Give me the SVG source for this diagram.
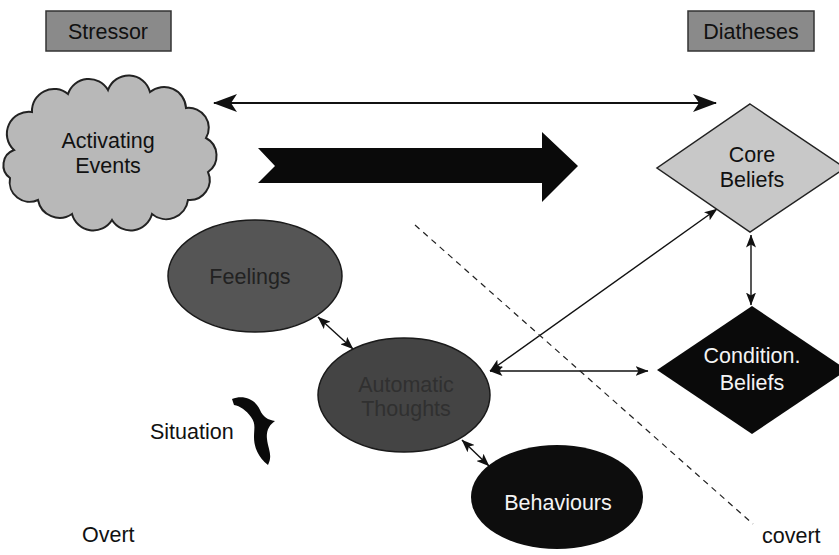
<svg xmlns="http://www.w3.org/2000/svg" width="839" height="555" viewBox="0 0 839 555">
<defs>
<style>
text{font-family:"Liberation Sans",Arial,sans-serif;font-size:21.5px;text-anchor:middle;fill:#111}
.box{fill:#8a8a8a;stroke:#333;stroke-width:1.5}
.conn{stroke:#111;fill:none}
.small{stroke-width:1.4;marker-start:url(#sm);marker-end:url(#sm)}
.w{fill:#f4f4f4}
.left{text-anchor:start}
</style>
<marker id="big" markerUnits="userSpaceOnUse" viewBox="0 0 24 18" refX="23" refY="9" markerWidth="24" markerHeight="18" orient="auto-start-reverse">
<path d="M0,0 L24,9 L0,18 L6,9 Z" fill="#111"/>
</marker>
<marker id="sm" markerUnits="userSpaceOnUse" viewBox="0 0 13 10" refX="12.5" refY="5" markerWidth="13" markerHeight="10" orient="auto-start-reverse">
<path d="M0,0 L13,5 L0,10 L3,5 Z" fill="#111"/>
</marker>
</defs>
<rect width="839" height="555" fill="#fff"/>

<g id="connectors">
<line class="conn" x1="214" y1="103" x2="716" y2="103" stroke-width="2" marker-start="url(#big)" marker-end="url(#big)"/>
<line class="conn small" x1="318" y1="317" x2="353" y2="349"/>
<line class="conn small" x1="462" y1="440" x2="489" y2="466"/>
<line class="conn small" x1="490" y1="371" x2="648" y2="371"/>
<line class="conn small" x1="490" y1="371" x2="717" y2="209"/>
<line class="conn small" x1="751" y1="235" x2="751" y2="305"/>
<line x1="415" y1="225" x2="753" y2="524" stroke="#222" stroke-width="1.2" stroke-dasharray="6,5"/>
</g>

<g id="stressor">
<rect class="box" x="46" y="11" width="125" height="40"/>
<text x="108" y="39">Stressor</text>
</g>

<g id="diatheses">
<rect class="box" x="688" y="11" width="126" height="40"/>
<text x="751" y="39">Diatheses</text>
</g>

<g id="activating-events">
<path d="M14,150 A22,22 0 0 1 32,112 A22,22 0 0 1 68,94 A22,22 0 0 1 108,90 A22,22 0 0 1 150,92 A22,22 0 0 1 186,108 A20,20 0 0 1 206,138 A20,20 0 0 1 208,172 A20,20 0 0 1 188,200 A22,22 0 0 1 152,214 A22,22 0 0 1 112,220 A22,22 0 0 1 72,214 A22,22 0 0 1 38,200 A20,20 0 0 1 10,178 A16,16 0 0 1 14,150 Z" fill="#b8b8b8" stroke="#222" stroke-width="2"/>
<text x="108" y="148">Activating</text>
<text x="108" y="173">Events</text>
</g>

<g id="big-arrow">
<polygon points="258,148 542,148 542,132 578,166 542,202 542,183 258,183 275,166" fill="#0a0a0a"/>
</g>

<g id="core-beliefs">
<polygon points="750,104 845,168 750,232 657,168" fill="#c8c8c8" stroke="#222" stroke-width="1.5"/>
<text x="752" y="162">Core</text>
<text x="752" y="187">Beliefs</text>
</g>

<g id="condition-beliefs">
<polygon points="752,306 847,370 752,434 657,370" fill="#0a0a0a"/>
<text class="w" x="752" y="363">Condition.</text>
<text class="w" x="752" y="390">Beliefs</text>
</g>

<g id="feelings">
<ellipse cx="255" cy="276" rx="87" ry="56" fill="#555" stroke="#1a1a1a" stroke-width="1.5"/>
<text x="250" y="284" style="fill:#222">Feelings</text>
</g>

<g id="automatic-thoughts">
<ellipse cx="404" cy="395" rx="86" ry="57" fill="#444" stroke="#1a1a1a" stroke-width="1.5"/>
<text x="406" y="392" style="fill:#303030">Automatic</text>
<text x="406" y="416" style="fill:#303030">Thoughts</text>
</g>

<g id="behaviours">
<ellipse cx="557" cy="497" rx="86" ry="52" fill="#0d0d0d"/>
<text class="w" x="558" y="510">Behaviours</text>
</g>

<g id="situation">
<text class="left" x="150" y="439">Situation</text>
<path d="M232,399 C244,394 256,400 260,410 C263,417 268,420 275,421 C269,425 266,431 267,439 C268,449 273,455 268,465 C258,457 254,447 254,437 C254,428 256,424 251,417 C246,410 240,406 234,405 Z" fill="#0a0a0a"/>
</g>

<g id="labels">
<text class="left" x="82" y="542">Overt</text>
<text class="left" x="762" y="543">covert</text>
</g>
</svg>
